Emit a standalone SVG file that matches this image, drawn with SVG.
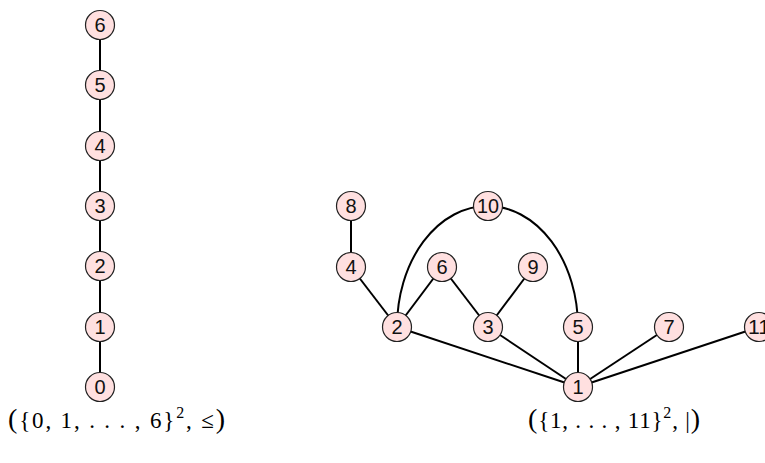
<svg xmlns="http://www.w3.org/2000/svg" width="765" height="463" viewBox="0 0 765 463">
<style>
.n circle{fill:#ffe0e0;stroke:#222;stroke-width:1.2}
.n text{font-family:"Liberation Sans",Arial,sans-serif;font-size:20px;text-anchor:middle;fill:#111}
.e{stroke:#000;stroke-width:2;fill:none}
.cap{font-family:"Liberation Serif","DejaVu Serif",serif;font-size:23px;fill:#000}
.big{font-size:28px}
</style>
<rect width="765" height="463" fill="#fff"/>
<g id="connectors">
<line class="e" x1="100" y1="25" x2="100" y2="387"/>
<line class="e" x1="351" y1="206" x2="351" y2="267"/>
<line class="e" x1="351" y1="267" x2="397" y2="327"/>
<line class="e" x1="397" y1="327" x2="442" y2="267"/>
<line class="e" x1="442" y1="267" x2="488" y2="327"/>
<line class="e" x1="488" y1="327" x2="533" y2="267"/>
<line class="e" x1="397" y1="327" x2="578" y2="387"/>
<line class="e" x1="488" y1="327" x2="578" y2="387"/>
<line class="e" x1="578" y1="327" x2="578" y2="387"/>
<line class="e" x1="669" y1="327" x2="578" y2="387"/>
<line class="e" x1="759" y1="327" x2="578" y2="387"/>
<path class="e" d="M397,327 A90.5,121 0 0 1 487.5,206"/>
<path class="e" d="M487.5,206 A90.5,121 0 0 1 578,327"/>
</g>
<g id="n6" class="n"><circle cx="100" cy="25" r="14.5"/><text x="100" y="32">6</text></g>
<g id="n5" class="n"><circle cx="100" cy="85" r="14.5"/><text x="100" y="92">5</text></g>
<g id="n4" class="n"><circle cx="100" cy="146" r="14.5"/><text x="100" y="153">4</text></g>
<g id="n3" class="n"><circle cx="100" cy="206" r="14.5"/><text x="100" y="213">3</text></g>
<g id="n2" class="n"><circle cx="100" cy="266" r="14.5"/><text x="100" y="273">2</text></g>
<g id="n1" class="n"><circle cx="100" cy="327" r="14.5"/><text x="100" y="334">1</text></g>
<g id="n0" class="n"><circle cx="100" cy="387" r="14.5"/><text x="100" y="394">0</text></g>
<g id="d8" class="n"><circle cx="351" cy="206" r="14.5"/><text x="351" y="213">8</text></g>
<g id="d10" class="n"><circle cx="488" cy="206" r="14.5"/><text x="488" y="213" textLength="22" lengthAdjust="spacingAndGlyphs">10</text></g>
<g id="d4" class="n"><circle cx="351" cy="267" r="14.5"/><text x="351" y="274">4</text></g>
<g id="d6" class="n"><circle cx="442" cy="267" r="14.5"/><text x="442" y="274">6</text></g>
<g id="d9" class="n"><circle cx="533" cy="267" r="14.5"/><text x="533" y="274">9</text></g>
<g id="d2" class="n"><circle cx="397" cy="327" r="14.5"/><text x="397" y="334">2</text></g>
<g id="d3" class="n"><circle cx="488" cy="327" r="14.5"/><text x="488" y="334">3</text></g>
<g id="d5" class="n"><circle cx="578" cy="327" r="14.5"/><text x="578" y="334">5</text></g>
<g id="d7" class="n"><circle cx="669" cy="327" r="14.5"/><text x="669" y="334">7</text></g>
<g id="d11" class="n"><circle cx="759" cy="327" r="14.5"/><text x="759" y="334" textLength="22" lengthAdjust="spacingAndGlyphs">11</text></g>
<g id="d1" class="n"><circle cx="578" cy="387" r="14.5"/><text x="578" y="394">1</text></g>
<g id="captions">
<text class="cap" x="8" y="428" textLength="217" lengthAdjust="spacing"><tspan class="big">(</tspan>{0, 1, . . . , 6}<tspan dy="-10" font-size="16">2</tspan><tspan dy="10">, ≤</tspan><tspan class="big">)</tspan></text>
<text class="cap" x="528" y="428" textLength="172" lengthAdjust="spacing"><tspan class="big">(</tspan>{1, . . . , 11}<tspan dy="-10" font-size="16">2</tspan><tspan dy="10">, |</tspan><tspan class="big">)</tspan></text>
</g>
</svg>
